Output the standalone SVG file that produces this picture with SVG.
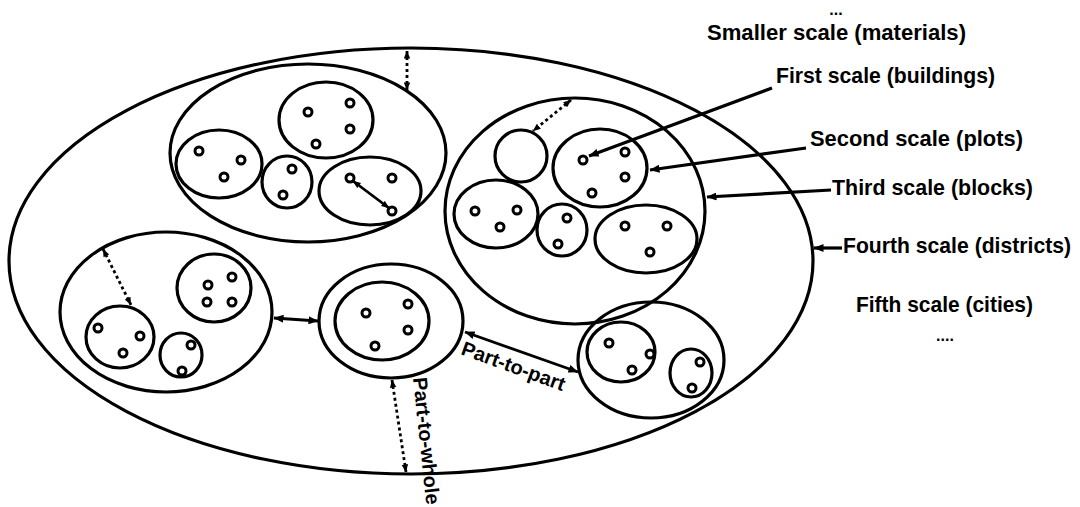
<svg xmlns="http://www.w3.org/2000/svg" width="1080" height="507" viewBox="0 0 1080 507">
<defs>
<marker id="ah" viewBox="0 0 10 8" refX="9.5" refY="4" markerWidth="10" markerHeight="8" markerUnits="userSpaceOnUse" orient="auto-start-reverse"><path d="M0,0 L10,4 L0,8 z" fill="#000"/></marker>
<marker id="ahs" viewBox="0 0 10 8" refX="9.5" refY="4" markerWidth="8" markerHeight="7" markerUnits="userSpaceOnUse" orient="auto-start-reverse"><path d="M0,0 L10,4 L0,8 z" fill="#000"/></marker>
</defs>
<style>
.e{fill:none;stroke:#000;stroke-width:3.2}
.p{fill:#fff;stroke:#000;stroke-width:3}
.sl{fill:none;stroke:#000;stroke-width:2.8}
.dl{fill:none;stroke:#000;stroke-width:2.8;stroke-dasharray:3 3}
.pl{fill:none;stroke:#000;stroke-width:3.2}
text{font-family:"Liberation Sans",Arial,sans-serif;font-weight:bold;fill:#000}
.lb{font-size:22px}
.cl{font-size:20px}
.dt{font-size:16px}
</style>
<rect width="1080" height="507" fill="#fff"/>

<g id="city">
<ellipse class="e" cx="411" cy="261" rx="402" ry="213"/>
</g>

<g id="district-upper-left">
<ellipse class="e" cx="308" cy="153" rx="138" ry="89"/>
<ellipse class="e" cx="326" cy="120" rx="47" ry="38"/>
<circle class="p" cx="308" cy="112" r="4"/><circle class="p" cx="350" cy="103" r="4"/><circle class="p" cx="350" cy="129" r="4"/><circle class="p" cx="316" cy="144" r="4"/>
<ellipse class="e" cx="219" cy="164" rx="43" ry="34"/>
<circle class="p" cx="199" cy="151" r="4"/><circle class="p" cx="241" cy="160" r="4"/><circle class="p" cx="224" cy="177" r="4"/>
<ellipse class="e" cx="287" cy="182" rx="25" ry="26"/>
<circle class="p" cx="292" cy="169" r="4"/><circle class="p" cx="283" cy="195" r="4"/>
<ellipse class="e" cx="370" cy="191" rx="51" ry="34"/>
<circle class="p" cx="350" cy="178" r="4"/><circle class="p" cx="392" cy="178" r="4"/><circle class="p" cx="392" cy="211" r="4"/>
</g>

<g id="district-right">
<ellipse class="e" cx="575" cy="211" rx="130" ry="113"/>
<circle class="e" cx="521" cy="156" r="26"/>
<ellipse class="e" cx="600" cy="168" rx="47" ry="39"/>
<circle class="p" cx="583" cy="160" r="4"/><circle class="p" cx="625" cy="152" r="4"/><circle class="p" cx="625" cy="177" r="4"/><circle class="p" cx="592" cy="193" r="4"/>
<ellipse class="e" cx="496" cy="214" rx="42" ry="34"/>
<circle class="p" cx="475" cy="211" r="4"/><circle class="p" cx="517" cy="210" r="4"/><circle class="p" cx="500" cy="227" r="4"/>
<ellipse class="e" cx="562" cy="230" rx="25" ry="26"/>
<circle class="p" cx="567" cy="218" r="4"/><circle class="p" cx="558" cy="244" r="4"/>
<ellipse class="e" cx="646" cy="239" rx="51" ry="34"/>
<circle class="p" cx="625" cy="226" r="4"/><circle class="p" cx="667" cy="226" r="4"/><circle class="p" cx="650" cy="252" r="4"/>
</g>

<g id="district-lower-left">
<ellipse class="e" cx="166" cy="312" rx="106" ry="80"/>
<ellipse class="e" cx="214" cy="288" rx="37" ry="34"/>
<circle class="p" cx="208" cy="285" r="4"/><circle class="p" cx="232" cy="277" r="4"/><circle class="p" cx="207" cy="302" r="4"/><circle class="p" cx="232" cy="302" r="4"/>
<ellipse class="e" cx="120" cy="337" rx="34" ry="31"/>
<circle class="p" cx="98" cy="328" r="4"/><circle class="p" cx="140" cy="336" r="4"/><circle class="p" cx="123" cy="353" r="4"/>
<ellipse class="e" cx="181" cy="355" rx="21" ry="22"/>
<circle class="p" cx="191" cy="345" r="4"/><circle class="p" cx="182" cy="371" r="4"/>
</g>

<g id="district-middle">
<ellipse class="e" cx="391" cy="321" rx="72" ry="57"/>
<ellipse class="e" cx="382" cy="321" rx="47" ry="39"/>
<circle class="p" cx="366" cy="313" r="4"/><circle class="p" cx="408" cy="304" r="4"/><circle class="p" cx="408" cy="330" r="4"/><circle class="p" cx="375" cy="346" r="4"/>
</g>

<g id="district-lower-right">
<ellipse class="e" cx="651" cy="360" rx="73" ry="58"/>
<ellipse class="e" cx="621" cy="352" rx="34" ry="30"/>
<circle class="p" cx="609" cy="343" r="4"/><circle class="p" cx="650" cy="354" r="4"/><circle class="p" cx="632" cy="370" r="4"/>
<ellipse class="e" cx="691" cy="373" rx="21" ry="24"/>
<circle class="p" cx="700" cy="362" r="4"/><circle class="p" cx="692" cy="388" r="4"/>
</g>

<g id="connectors">
<line class="dl" x1="407" y1="51" x2="407" y2="90" marker-start="url(#ahs)" marker-end="url(#ahs)"/>
<line class="dl" x1="571" y1="100" x2="533" y2="131" marker-start="url(#ahs)" marker-end="url(#ahs)"/>
<line class="dl" x1="103" y1="249" x2="131" y2="305" marker-start="url(#ahs)" marker-end="url(#ahs)"/>
<line class="dl" x1="392" y1="380" x2="406" y2="472" marker-start="url(#ahs)" marker-end="url(#ahs)"/>
<line class="sl" x1="353" y1="181" x2="389" y2="208" marker-start="url(#ahs)" marker-end="url(#ahs)"/>
<line class="sl" x1="274" y1="318" x2="318" y2="321" marker-start="url(#ah)" marker-end="url(#ah)"/>
<line class="sl" x1="465" y1="332" x2="578" y2="372" marker-start="url(#ah)" marker-end="url(#ah)"/>
<line class="pl" x1="772" y1="88" x2="589" y2="156" marker-end="url(#ah)"/>
<line class="pl" x1="806" y1="148" x2="650" y2="170" marker-end="url(#ah)"/>
<line class="pl" x1="831" y1="190" x2="707" y2="197" marker-end="url(#ah)"/>
<line class="pl" x1="842" y1="248" x2="814" y2="248" marker-end="url(#ah)"/>
</g>

<g id="labels">
<text class="dt" x="836" y="15" text-anchor="middle">...</text>
<text class="lb" x="707" y="40" textLength="259" lengthAdjust="spacingAndGlyphs">Smaller scale (materials)</text>
<text class="lb" x="776" y="83" textLength="219" lengthAdjust="spacingAndGlyphs">First scale (buildings)</text>
<text class="lb" x="810" y="146" textLength="213" lengthAdjust="spacingAndGlyphs">Second scale (plots)</text>
<text class="lb" x="832" y="195" textLength="201" lengthAdjust="spacingAndGlyphs">Third scale (blocks)</text>
<text class="lb" x="843" y="253" textLength="228" lengthAdjust="spacingAndGlyphs">Fourth scale (districts)</text>
<text class="lb" x="856" y="312" textLength="177" lengthAdjust="spacingAndGlyphs">Fifth scale (cities)</text>
<text class="dt" x="945" y="341" text-anchor="middle">....</text>
<text class="cl" transform="translate(460,354) rotate(20)">Part-to-part</text>
<text class="cl" transform="translate(413,378) rotate(84)">Part-to-whole</text>
</g>
</svg>
